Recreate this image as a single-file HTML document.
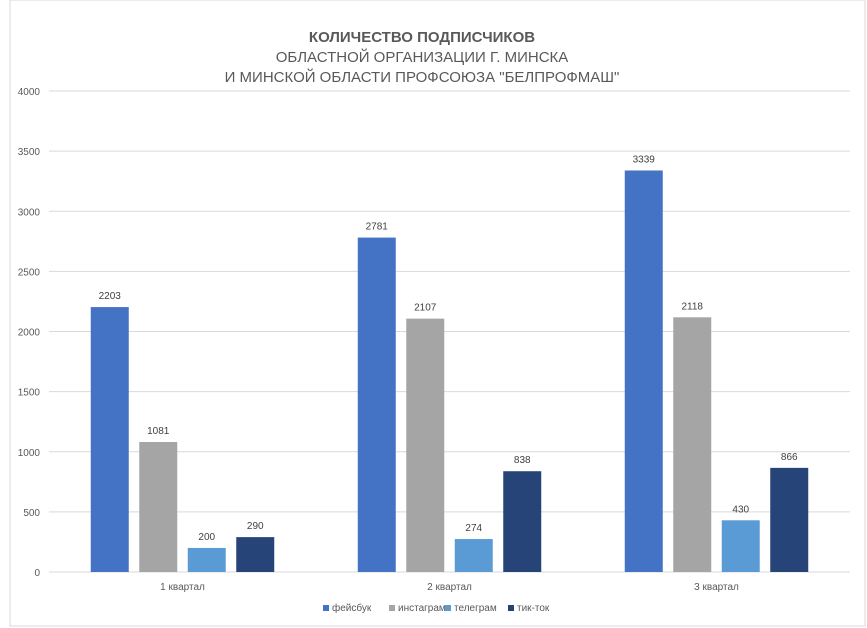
<!DOCTYPE html>
<html><head><meta charset="utf-8"><style>
body{margin:0;background:#fff;}
svg{display:block;font-family:"Liberation Sans",sans-serif;}
</style></head><body>
<svg width="867" height="628">
<rect x="10" y="0" width="855" height="626" fill="#fff" stroke="#d9d9d9"/>
<g text-anchor="middle" fill="#595959" font-size="15">
<text x="422" y="42" font-weight="bold">КОЛИЧЕСТВО ПОДПИСЧИКОВ</text>
<text x="422" y="62">ОБЛАСТНОЙ ОРГАНИЗАЦИИ Г. МИНСКА</text>
<text x="422" y="82">И МИНСКОЙ ОБЛАСТИ ПРОФСОЮЗА "БЕЛПРОФМАШ"</text>
</g>
<g id="grid"></g><g id="bars"></g><g id="legend"></g>
</svg>
<script>
const categories=["1 квартал","2 квартал","3 квартал"];
const seriesNames=["фейсбук","инстаграм","телеграм","тик-ток"];
const facebook=[2203,2781,3339];
const instagram=[1081,2107,2118];
const telegram=[200,274,430];
const tiktok=[290,838,866];
const yTicks=[0,500,1000,1500,2000,2500,3000,3500,4000];
const colors=["#4472c4","#a5a5a5","#5b9bd5","#264478"];
const series=[facebook,instagram,telegram,tiktok];
const NS="http://www.w3.org/2000/svg";
const x0=49,x1=850,yBase=572,yTop=91,yMax=4000;
const y=v=>yBase-(v/yMax)*(yBase-yTop);
const gw=(x1-x0)/categories.length;
function mk(t,a,p){const e=document.createElementNS(NS,t);for(const k in a)e.setAttribute(k,a[k]);p.appendChild(e);return e;}
const grid=document.getElementById('grid');
yTicks.forEach(t=>{
 const l=mk('line',{x1:x0,x2:x1,y1:y(t),y2:y(t),stroke:'#d9d9d9'},grid);
 
 
 const tx=mk('text',{x:40,y:y(t)+4,'text-anchor':'end','font-size':10,fill:'#595959'},grid);
 tx.textContent=t;
 
 
});
const bars=document.getElementById('bars');
const bw=38,step=48.5;
categories.forEach((c,i)=>{
 const cx=x0+gw*(i+0.5);
 series.forEach((s,j)=>{
  const bx=cx-step*1.5-bw/2+j*step;
  const r=mk('rect',{x:bx,y:y(s[i]),width:bw,height:yBase-y(s[i]),fill:colors[j]},bars);
  
  
  const lb=mk('text',{x:bx+bw/2,y:y(s[i])-8,'text-anchor':'middle','font-size':10,fill:'#404040'},bars);
  lb.textContent=s[i];
  
  
 });
 const ct=mk('text',{x:cx,y:590,'text-anchor':'middle','font-size':10,fill:'#595959'},bars);
 ct.textContent=c;
 
 
});
const leg=document.getElementById('legend');
const lx=[323,389,445,508];
seriesNames.forEach((n,j)=>{
 const r=mk('rect',{x:lx[j],y:605,width:6,height:6,fill:colors[j]},leg);
 
 
 const t=mk('text',{x:lx[j]+9,y:611,'font-size':10,fill:'#595959'},leg);
 t.textContent=n;
 
 
});
</script>
</body></html>
